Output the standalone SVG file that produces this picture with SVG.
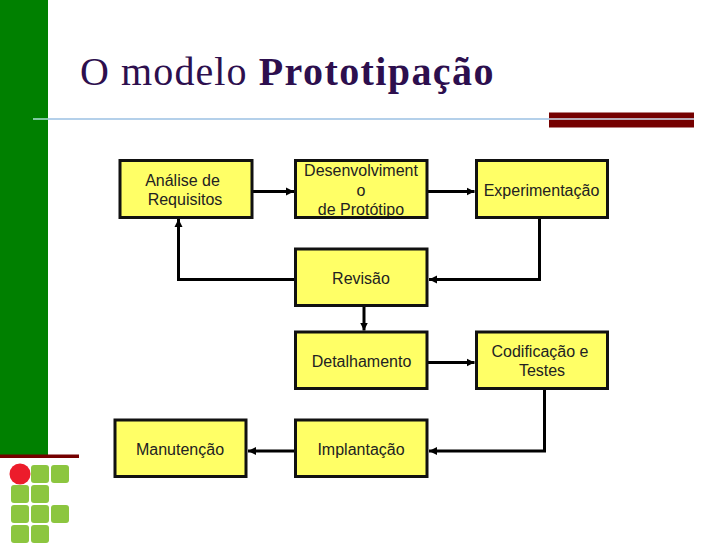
<svg xmlns="http://www.w3.org/2000/svg" width="728" height="546" viewBox="0 0 728 546">
<style>
.box{fill:#ffff66;stroke:#111;stroke-width:3}
.lbl{font-family:"Liberation Sans",Arial,sans-serif;font-size:16px;fill:#222;text-anchor:middle}
.c{fill:none;stroke:#000;stroke-width:3}
.cell{fill:#8cc63f}
</style>
<defs><marker id="a" markerUnits="userSpaceOnUse" markerWidth="10" markerHeight="10" refX="8" refY="5" orient="auto"><path d="M0,1L8,5L0,9Z" fill="#000"/></marker></defs>
<rect width="728" height="546" fill="#fff"/>
<g id="chrome">
<rect x="0" y="0" width="48" height="455" fill="#008000"/>
<rect x="0" y="454.500" width="79" height="3.500" fill="#750000"/>
<rect x="549" y="112.500" width="145" height="15" fill="#750000"/>
<rect x="33" y="118" width="661" height="2" fill="#b4d0ea"/>
<rect x="33" y="118" width="15" height="2" fill="#7fc8a0"/>
<rect x="549" y="118" width="145" height="2" fill="#b9a8b4"/>
<text x="80" y="85" font-family="'Liberation Serif',serif" font-size="40" fill="#2d0f4e" letter-spacing="1.100">O modelo <tspan font-weight="bold" letter-spacing="1.400">Prototipação</tspan></text>
</g>
<g id="logo">
<rect class="cell" x="31" y="465" width="18" height="18" rx="3"/>
<rect class="cell" x="51" y="465" width="18" height="18" rx="3"/>
<rect class="cell" x="11" y="485" width="18" height="18" rx="3"/>
<rect class="cell" x="31" y="485" width="18" height="18" rx="3"/>
<rect class="cell" x="11" y="505" width="18" height="18" rx="3"/>
<rect class="cell" x="31" y="505" width="18" height="18" rx="3"/>
<rect class="cell" x="51" y="505" width="18" height="18" rx="3"/>
<rect class="cell" x="11" y="525" width="18" height="18" rx="3"/>
<rect class="cell" x="31" y="525" width="18" height="18" rx="3"/>
<circle cx="20" cy="474" r="10.500" fill="#ec1c2b"/>
</g>
<g id="connectors">
<path class="c" d="M252 191.500H294" marker-end="url(#a)"/>
<path class="c" d="M428 191.500H474.500" marker-end="url(#a)"/>
<path class="c" d="M539.500 218V279.500H429" marker-end="url(#a)"/>
<path class="c" d="M295 279.500H178.500V219" marker-end="url(#a)"/>
<path class="c" d="M364 306V330.500" marker-end="url(#a)"/>
<path class="c" d="M428 362.500H474.500" marker-end="url(#a)"/>
<path class="c" d="M544.500 389V451H429" marker-end="url(#a)"/>
<path class="c" d="M295 451H248" marker-end="url(#a)"/>
</g>
<g id="n-analise"><rect class="box" x="120" y="160.500" width="132" height="57"/><text class="lbl" x="182.500" y="186">Análise de </text><text class="lbl" x="185" y="205"> Requisitos</text></g>
<g id="n-desenv"><rect x="295.500" y="160.500" width="131.500" height="57" fill="#ffff66"/><text class="lbl" x="361" y="176">Desenvolviment</text><text class="lbl" x="361" y="196">o</text><text class="lbl" x="361" y="215">de Protótipo</text><rect x="295.500" y="160.500" width="131.500" height="57" fill="none" stroke="#111" stroke-width="3"/></g>
<g id="n-exper"><rect class="box" x="476.500" y="160.500" width="131" height="57"/><text class="lbl" x="541.500" y="196">Experimentação</text></g>
<g id="n-revisao"><rect class="box" x="295.500" y="249" width="131.500" height="56.500"/><text class="lbl" x="361" y="284">Revisão</text></g>
<g id="n-detal"><rect class="box" x="295.500" y="332" width="131.500" height="56.500"/><text class="lbl" x="361.500" y="367">Detalhamento</text></g>
<g id="n-codif"><rect class="box" x="476.500" y="332" width="131" height="56.500"/><text class="lbl" x="540" y="357">Codificação e </text><text class="lbl" x="542" y="376">Testes</text></g>
<g id="n-impl"><rect class="box" x="295.500" y="420" width="131.500" height="56.500"/><text class="lbl" x="361" y="455">Implantação</text></g>
<g id="n-manut"><rect class="box" x="115" y="420" width="131" height="56.500"/><text class="lbl" x="180" y="455">Manutenção</text></g>
</svg>
